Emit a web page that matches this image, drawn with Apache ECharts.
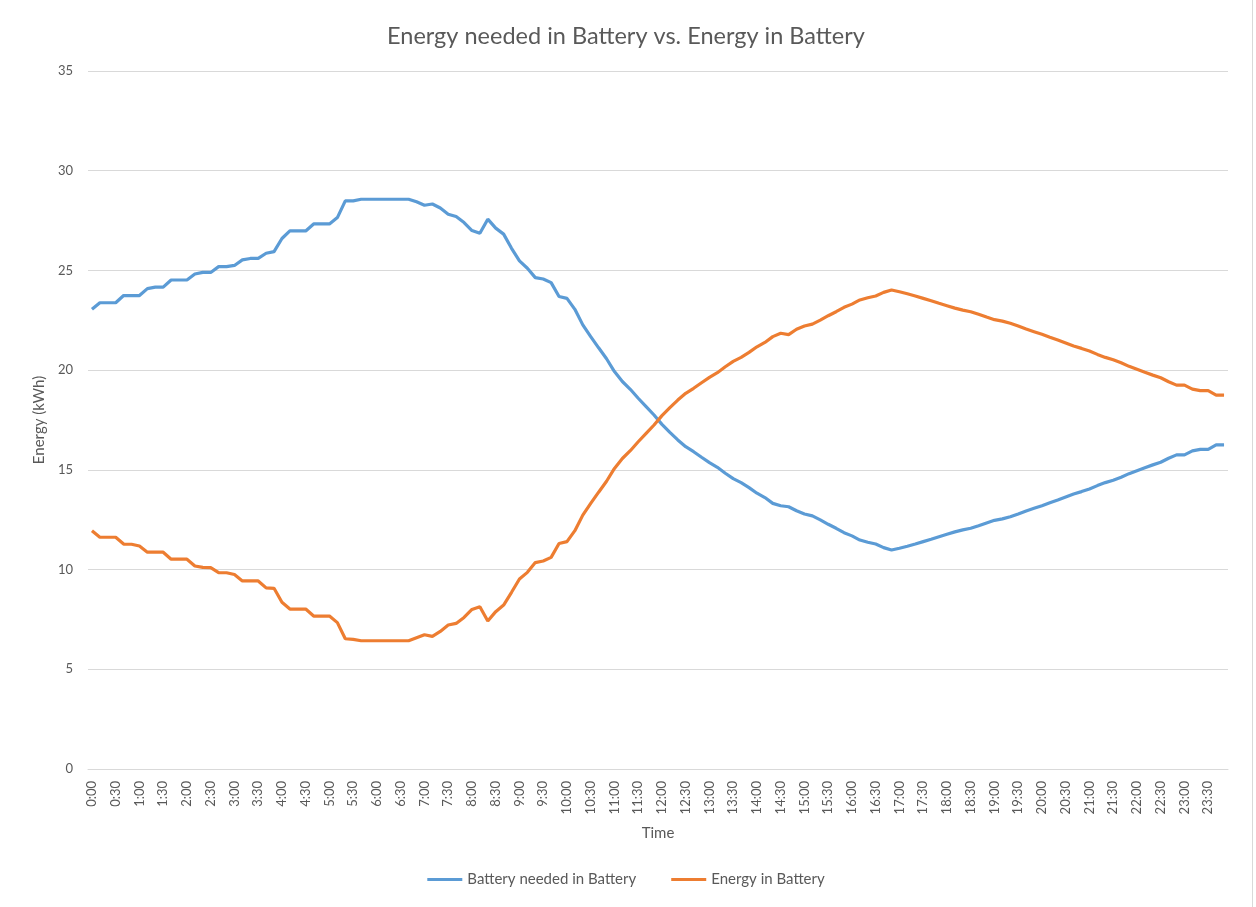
<!DOCTYPE html>
<html>
<head>
<meta charset="utf-8">
<script src="https://cdn.jsdelivr.net/npm/echarts@6/dist/echarts.min.js"></script>
<style>
  html, body { margin: 0; padding: 0; background: #fff; }
  #chart { width: 1252px; height: 907px; border-right: 1px solid #d9d9d9; }
</style>
</head>
<body>
<div id="chart"></div>
<script>
// 10-minute steps over one day
const times = [
  '0:00','0:10','0:20','0:30','0:40','0:50','1:00','1:10','1:20','1:30','1:40','1:50',
  '2:00','2:10','2:20','2:30','2:40','2:50','3:00','3:10','3:20','3:30','3:40','3:50',
  '4:00','4:10','4:20','4:30','4:40','4:50','5:00','5:10','5:20','5:30','5:40','5:50',
  '6:00','6:10','6:20','6:30','6:40','6:50','7:00','7:10','7:20','7:30','7:40','7:50',
  '8:00','8:10','8:20','8:30','8:40','8:50','9:00','9:10','9:20','9:30','9:40','9:50',
  '10:00','10:10','10:20','10:30','10:40','10:50','11:00','11:10','11:20','11:30','11:40','11:50',
  '12:00','12:10','12:20','12:30','12:40','12:50','13:00','13:10','13:20','13:30','13:40','13:50',
  '14:00','14:10','14:20','14:30','14:40','14:50','15:00','15:10','15:20','15:30','15:40','15:50',
  '16:00','16:10','16:20','16:30','16:40','16:50','17:00','17:10','17:20','17:30','17:40','17:50',
  '18:00','18:10','18:20','18:30','18:40','18:50','19:00','19:10','19:20','19:30','19:40','19:50',
  '20:00','20:10','20:20','20:30','20:40','20:50','21:00','21:10','21:20','21:30','21:40','21:50',
  '22:00','22:10','22:20','22:30','22:40','22:50','23:00','23:10','23:20','23:30','23:40','23:50'
]

const energyNeeded = [
  23.05, 23.38, 23.38, 23.38, 23.74, 23.74, 23.74, 24.09, 24.16, 24.16, 24.52, 24.52,
  24.52, 24.82, 24.9, 24.9, 25.19, 25.19, 25.25, 25.53, 25.6, 25.6, 25.86, 25.94,
  26.6, 26.98, 26.98, 26.98, 27.33, 27.33, 27.33, 27.65, 28.49, 28.49, 28.57, 28.57,
  28.57, 28.57, 28.57, 28.57, 28.57, 28.44, 28.27, 28.33, 28.13, 27.82, 27.7, 27.4,
  27.0, 26.86, 27.57, 27.12, 26.82, 26.11, 25.48, 25.11, 24.64, 24.57, 24.39, 23.69,
  23.6, 23.05, 22.27, 21.68, 21.12, 20.57, 19.93, 19.43, 19.04, 18.59, 18.17, 17.75,
  17.28, 16.88, 16.5, 16.16, 15.91, 15.63, 15.36, 15.13, 14.83, 14.56, 14.36, 14.11,
  13.83, 13.61, 13.32, 13.2, 13.15, 12.95, 12.79, 12.69, 12.49, 12.27, 12.07, 11.85,
  11.69, 11.48, 11.37, 11.28, 11.1, 10.98, 11.07, 11.17, 11.28, 11.4, 11.52, 11.65,
  11.77, 11.89, 11.99, 12.07, 12.2, 12.34, 12.47, 12.54, 12.65, 12.79, 12.94, 13.07,
  13.2, 13.35, 13.49, 13.64, 13.79, 13.91, 14.04, 14.21, 14.36, 14.48, 14.63, 14.81,
  14.96, 15.11, 15.25, 15.38, 15.58, 15.75, 15.75, 15.95, 16.03, 16.03, 16.25, 16.25
]

const energyInBattery = [
  11.95, 11.62, 11.62, 11.62, 11.28, 11.27, 11.18, 10.87, 10.87, 10.87, 10.52, 10.52,
  10.52, 10.18, 10.11, 10.1, 9.85, 9.84, 9.75, 9.43, 9.43, 9.43, 9.08, 9.06,
  8.36, 8.02, 8.02, 8.02, 7.67, 7.67, 7.67, 7.34, 6.53, 6.5, 6.43, 6.43,
  6.43, 6.43, 6.43, 6.43, 6.43, 6.58, 6.73, 6.65, 6.9, 7.22, 7.3, 7.6,
  8.0, 8.14, 7.42, 7.89, 8.22, 8.86, 9.53, 9.86, 10.35, 10.43, 10.61, 11.31,
  11.4, 11.95, 12.73, 13.32, 13.88, 14.43, 15.07, 15.57, 15.96, 16.41, 16.83, 17.25,
  17.72, 18.12, 18.5, 18.84, 19.09, 19.37, 19.64, 19.87, 20.17, 20.44, 20.64, 20.89,
  21.17, 21.39, 21.68, 21.85, 21.78, 22.05, 22.21, 22.31, 22.51, 22.73, 22.93, 23.15,
  23.31, 23.52, 23.63, 23.72, 23.9, 24.02, 23.93, 23.83, 23.72, 23.6, 23.48, 23.35,
  23.23, 23.11, 23.01, 22.93, 22.8, 22.66, 22.53, 22.46, 22.35, 22.21, 22.06, 21.93,
  21.8, 21.65, 21.51, 21.36, 21.21, 21.09, 20.96, 20.79, 20.64, 20.52, 20.37, 20.19,
  20.04, 19.89, 19.75, 19.62, 19.42, 19.25, 19.25, 19.05, 18.97, 18.97, 18.75, 18.75
]

const yTicks = { min: 0, max: 35, interval: 5 }

const textColor = '#595959'
const font = 'Lato, "Open Sans", sans-serif'

const myChart = echarts.init(document.getElementById('chart'))
myChart.setOption({
  animation: false,
  textStyle: { fontFamily: font },
  title: {
    text: 'Energy needed in Battery vs. Energy in Battery',
    left: 'center',
    top: 19,
    textStyle: { fontSize: 23.5, fontWeight: 'normal', color: textColor, fontFamily: font },
  },
  legend: {
    bottom: 15,
    left: 'center',
    icon: 'rect',
    itemWidth: 35,
    itemHeight: 3,
    itemGap: 35,
    textStyle: { fontSize: 15, color: textColor },
  },
  grid: {
    left: 88,
    right: 24,
    top: 71,
    bottom: 138,
  },
  xAxis: {
    type: 'category',
    data: times,
    boundaryGap: true,
    name: 'Time',
    nameLocation: 'middle',
    nameGap: 57,
    nameTextStyle: { fontSize: 15, color: textColor },
    axisLine: { lineStyle: { color: '#d9d9d9' } },
    axisTick: { show: false },
    axisLabel: {
      interval: 2,
      rotate: 90,
      margin: 12,
      fontSize: 13,
      color: textColor,
    },
  },
  yAxis: {
    type: 'value',
    min: yTicks.min,
    max: yTicks.max,
    interval: yTicks.interval,
    name: 'Energy (kWh)',
    nameLocation: 'middle',
    nameGap: 40,
    nameTextStyle: { fontSize: 15, color: textColor },
    axisLine: { show: false },
    axisTick: { show: false },
    axisLabel: { margin: 15, fontSize: 13, color: textColor },
    splitLine: { lineStyle: { color: '#d9d9d9' } },
  },
  series: [
    {
      name: 'Battery needed in Battery',
      type: 'line',
      data: energyNeeded,
      showSymbol: false,
      symbol: 'none',
      lineStyle: { width: 3.2, color: '#5b9bd5' },
      itemStyle: { color: '#5b9bd5' },
    },
    {
      name: 'Energy in Battery',
      type: 'line',
      data: energyInBattery,
      showSymbol: false,
      symbol: 'none',
      lineStyle: { width: 3.2, color: '#ed7d31' },
      itemStyle: { color: '#ed7d31' },
    },
  ],
})
</script>
</body>
</html>
